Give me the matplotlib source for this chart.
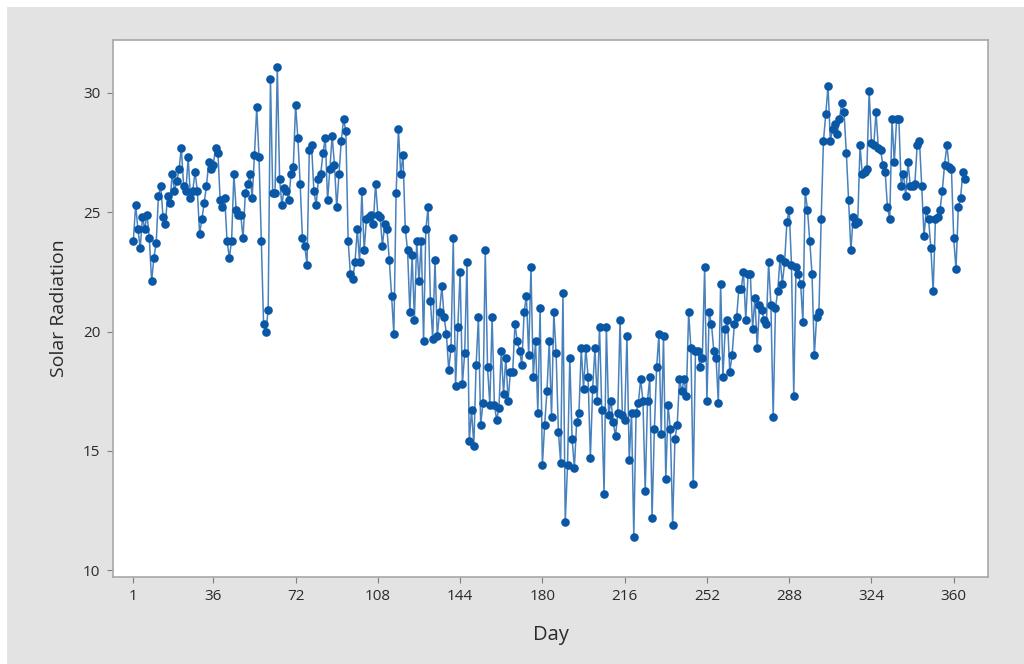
import matplotlib
matplotlib.use("Agg")
import matplotlib.pyplot as plt
import numpy as np
from matplotlib.patches import Rectangle

# daily solar radiation (days 1..365)
rad_jan_mar = [
    23.8, 25.3, 24.3, 23.5, 24.8, 24.3, 24.9, 23.9, 22.1, 23.1,
    23.7, 25.7, 26.1, 24.8, 24.5, 25.7, 25.4, 26.6, 25.9, 26.3,
    26.8, 27.7, 26.1, 25.9, 27.3, 25.6, 25.9, 26.7, 25.9, 24.1,
    24.7, 25.4, 26.1, 27.1, 26.8, 27.0, 27.7, 27.5, 25.5, 25.2,
    25.6, 23.8, 23.1, 23.8, 26.6, 25.1, 24.9, 24.9, 23.9, 25.8,
    26.2, 26.6, 25.6, 27.4, 29.4, 27.3, 23.8, 20.3, 20.0, 20.9,
    30.6, 25.8, 25.8, 31.1, 26.4, 25.3, 26.0,
]
rad_mar_may = [
    25.9, 25.5, 26.6, 26.9, 29.5, 28.1, 26.2, 23.9, 23.6, 22.8,
    27.6, 27.8, 25.9, 25.3, 26.4, 26.6, 27.5, 28.1, 25.5, 26.8,
    28.2, 27.0, 25.2, 26.6, 28.0, 28.9, 28.4, 23.8, 22.4, 22.2,
    22.9, 24.3, 22.9, 25.9, 23.4, 24.7, 24.8, 24.9, 24.5, 26.2,
    24.9, 24.8, 23.6, 24.5, 24.3, 23.0, 21.5, 19.9, 25.8, 28.5,
    26.6, 27.4, 24.3, 23.4, 20.8, 23.2, 20.5, 23.8, 22.1, 23.8,
    19.6, 24.3, 25.2, 21.3, 19.7, 23.0, 19.8, 20.8, 21.9, 20.6,
    19.9,
]
rad_may_jul = [
    18.4, 19.3, 23.9, 17.7, 20.2, 22.5, 17.8, 19.1, 22.9, 15.4,
    16.7, 15.2, 18.6, 20.6, 16.1, 17.0, 23.4, 18.5, 16.9, 20.6,
    16.9, 16.3, 16.8, 19.2, 17.4, 18.9, 17.1, 18.3, 18.3, 20.3,
    19.6, 19.2, 18.6, 20.8, 21.5, 19.0, 22.7, 18.1, 19.6, 16.6,
    21.0, 14.4, 16.1, 17.5, 19.6, 16.4, 20.8, 19.1, 15.8, 14.5,
    21.6, 12.0, 14.4, 18.9, 15.5, 14.3, 16.2, 16.6, 19.3, 17.6,
    19.3, 18.1, 14.7, 17.6, 19.3, 17.1, 20.2, 16.7, 13.2, 20.2,
    16.5,
]
rad_jul_oct = [
    17.1, 16.2, 15.6, 16.6, 20.5, 16.5, 16.3, 19.8, 14.6, 16.6,
    11.4, 16.6, 17.0, 18.0, 17.1, 13.3, 17.1, 18.1, 12.2, 15.9,
    18.5, 19.9, 15.7, 19.8, 13.8, 16.9, 15.9, 11.9, 15.5, 16.1,
    18.0, 17.5, 18.0, 17.3, 20.8, 19.3, 13.6, 19.2, 19.2, 18.5,
    18.9, 22.7, 17.1, 20.8, 20.3, 19.2, 18.9, 17.0, 22.0, 18.1,
    20.1, 20.5, 18.3, 19.0, 20.3, 20.6, 21.8, 21.8, 22.5, 20.5,
    22.4, 22.4, 20.1, 21.4, 19.3, 21.1, 20.9, 20.5, 20.3, 22.9,
]
rad_oct_dec = [
    21.1, 16.4, 21.0, 21.7, 23.1, 22.0, 22.9, 24.6, 25.1, 22.8,
    17.3, 22.7, 22.4, 22.0, 20.4, 25.9, 25.1, 23.8, 22.4, 19.0,
    20.6, 20.8, 24.7, 28.0, 29.1, 30.3, 28.0, 28.5, 28.7, 28.3,
    28.9, 29.6, 29.2, 27.5, 25.5, 23.4, 24.8, 24.5, 24.6, 27.8,
    26.6, 26.7, 26.8, 30.1, 27.9, 27.8, 29.2, 27.7, 27.6, 27.0,
    26.7, 25.2, 24.7, 28.9, 27.1, 28.9, 28.9, 26.1, 26.6, 25.7,
    27.1, 26.1, 26.1, 26.2, 27.8, 28.0, 26.1, 24.0, 25.1, 24.7,
    23.5, 21.7, 24.7, 24.8, 25.1, 25.9, 27.0, 27.8, 26.9, 26.8,
    23.9, 22.6, 25.2, 25.6, 26.7, 26.4,
]
radiation = rad_jan_mar + rad_mar_may + rad_may_jul + rad_jul_oct + rad_oct_dec
days = np.arange(1, len(radiation) + 1)

x_ticks = [1, 36, 72, 108, 144, 180, 216, 252, 288, 324, 360]
y_ticks = [10, 15, 20, 25, 30]

blue = "#0a57a5"
frame = "#a8a8a8"
text_col = "#2b2b2b"

plt.rcParams["font.family"] = ["Open Sans", "DejaVu Sans"]

fig = plt.figure(figsize=(10.24, 6.64), dpi=100, facecolor="white")
# grey Minitab-style background panel, kept behind the axes
fig.add_artist(
    Rectangle((7 / 1024, 0), 1, 657 / 664, transform=fig.transFigure,
              facecolor="#e3e3e3", edgecolor="none", zorder=-10)
)

ax = fig.add_axes([113 / 1024, 87 / 664, 875 / 1024, 537 / 664])
ax.set_zorder(1)
ax.set_facecolor("white")

ax.plot(days, radiation, color=blue, linewidth=1.1, alpha=0.75)
ax.plot(days, radiation, linestyle="none", marker="o", markersize=6.2,
        color=blue, markeredgewidth=0)

ax.set_xlim(-7.9, 375)
ax.set_ylim(9.71, 32.22)
ax.set_xticks(x_ticks)
ax.set_yticks(y_ticks)

for spine in ax.spines.values():
    spine.set_color(frame)
    spine.set_linewidth(1.2)
ax.tick_params(direction="out", length=4, width=0.8, color="#808080",
               labelsize=11, labelcolor=text_col, pad=5)

ax.set_xlabel("Day", fontsize=14.5, color=text_col, labelpad=15)
ax.set_ylabel("Solar Radiation", fontsize=14, color=text_col, labelpad=11)

plt.savefig("out.png", dpi=100, facecolor=fig.get_facecolor())
